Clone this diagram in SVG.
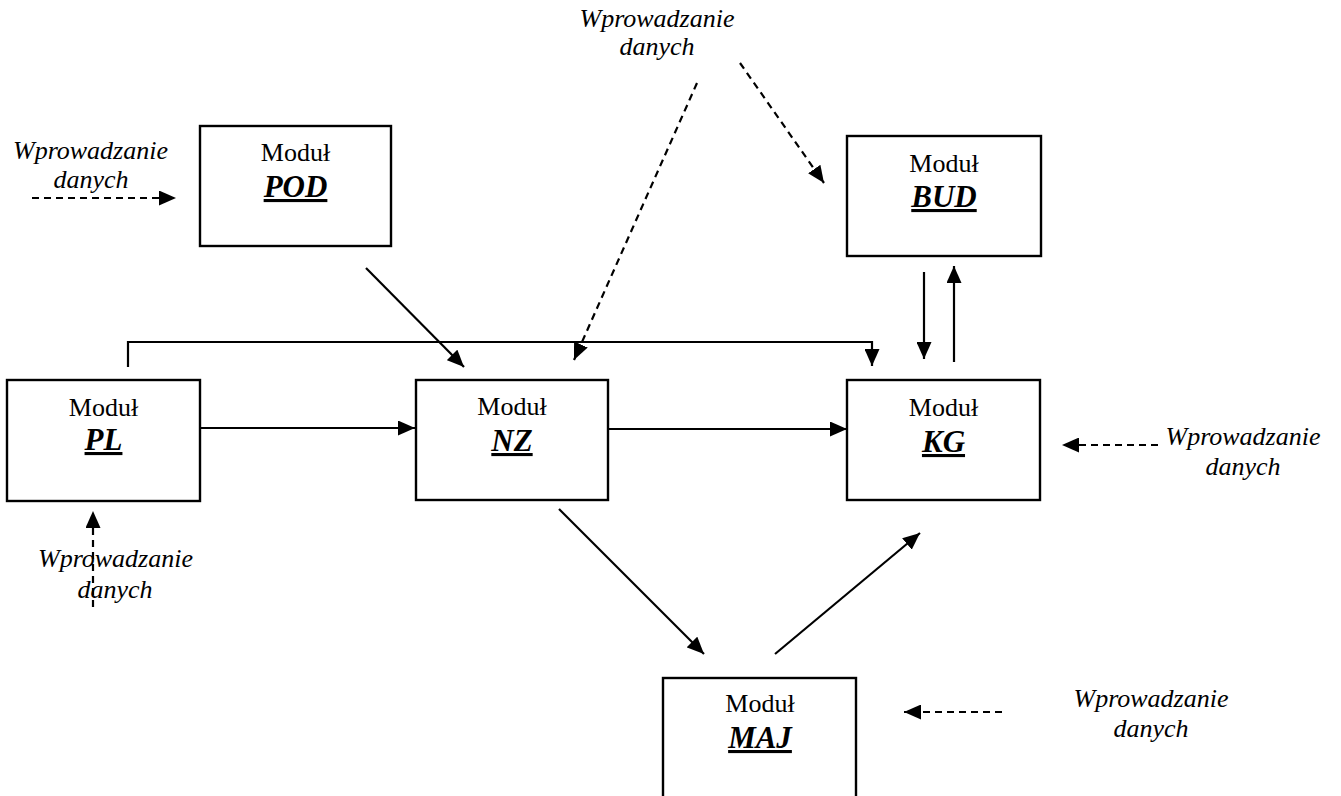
<svg xmlns="http://www.w3.org/2000/svg" width="1341" height="796" viewBox="0 0 1341 796">
<style>
.box{fill:#fff;stroke:#000;stroke-width:2.4}
.m{font-family:"Liberation Serif","Times New Roman",serif;font-size:26px;text-anchor:middle;fill:#000}
.b{font-family:"Liberation Serif","Times New Roman",serif;font-size:31px;font-weight:bold;font-style:italic;text-anchor:middle;fill:#000;text-decoration:underline;text-decoration-thickness:3px}
.in{font-family:"Liberation Serif","Times New Roman",serif;font-size:26px;font-style:italic;text-anchor:middle;fill:#000}
.c{fill:none;stroke:#000;stroke-width:2.2;marker-end:url(#ah)}
.d{fill:none;stroke:#000;stroke-width:2.2;stroke-dasharray:7 5;marker-end:url(#ah)}
</style>
<defs>
<marker id="ah" markerUnits="userSpaceOnUse" markerWidth="17" markerHeight="15" refX="17" refY="7.5" orient="auto">
<path d="M0,0 L17,7.5 L0,15 z" fill="#000"/>
</marker>
</defs>
<rect width="1341" height="796" fill="#fff"/>
<g id="connectors">
<line class="c" x1="200" y1="428" x2="415" y2="428"/>
<line class="c" x1="608" y1="429" x2="847" y2="429"/>
<path class="c" d="M128,367 V342 H872 V366"/>
<line class="c" x1="366" y1="268" x2="464" y2="367"/>
<line class="c" x1="559" y1="509" x2="704" y2="654"/>
<line class="c" x1="775" y1="654" x2="920" y2="533"/>
<line class="c" x1="954" y1="362" x2="954" y2="266"/>
<line class="c" x1="924" y1="272" x2="924" y2="359"/>
<line class="d" x1="32" y1="198" x2="176" y2="198"/>
<line class="d" x1="697" y1="83" x2="574" y2="360"/>
<line class="d" x1="740" y1="63" x2="824" y2="183"/>
<line class="d" x1="1158" y1="445" x2="1062" y2="445"/>
<line class="d" x1="1002" y1="712" x2="904" y2="712"/>
<line class="d" x1="93" y1="607" x2="93" y2="511"/>
</g>
<g id="node-POD">
<rect class="box" x="200" y="126" width="191" height="120"/>
<text class="m" x="295.5" y="161">Moduł</text>
<text class="b" x="295.5" y="197">POD</text>
</g>
<g id="node-BUD">
<rect class="box" x="847" y="136" width="194" height="120"/>
<text class="m" x="944" y="172">Moduł</text>
<text class="b" x="944" y="207">BUD</text>
</g>
<g id="node-PL">
<rect class="box" x="7" y="380" width="193" height="121"/>
<text class="m" x="103.5" y="416">Moduł</text>
<text class="b" x="103.5" y="450">PL</text>
</g>
<g id="node-NZ">
<rect class="box" x="416" y="380" width="192" height="120"/>
<text class="m" x="512" y="415">Moduł</text>
<text class="b" x="512" y="451">NZ</text>
</g>
<g id="node-KG">
<rect class="box" x="847" y="380" width="193" height="120"/>
<text class="m" x="943.5" y="416">Moduł</text>
<text class="b" x="943.5" y="452">KG</text>
</g>
<g id="node-MAJ">
<rect class="box" x="663" y="678" width="193" height="140"/>
<text class="m" x="760" y="712">Moduł</text>
<text class="b" x="760" y="748">MAJ</text>
</g>
<g id="inputs">
<text class="in" x="90.5" y="159">Wprowadzanie</text>
<text class="in" x="91" y="188">danych</text>
<text class="in" x="657" y="27">Wprowadzanie</text>
<text class="in" x="657" y="55">danych</text>
<text class="in" x="1243" y="445">Wprowadzanie</text>
<text class="in" x="1243" y="475">danych</text>
<text class="in" x="1151" y="707">Wprowadzanie</text>
<text class="in" x="1151" y="737">danych</text>
<text class="in" x="115.5" y="567">Wprowadzanie</text>
<text class="in" x="115" y="598">danych</text>
</g>
</svg>
